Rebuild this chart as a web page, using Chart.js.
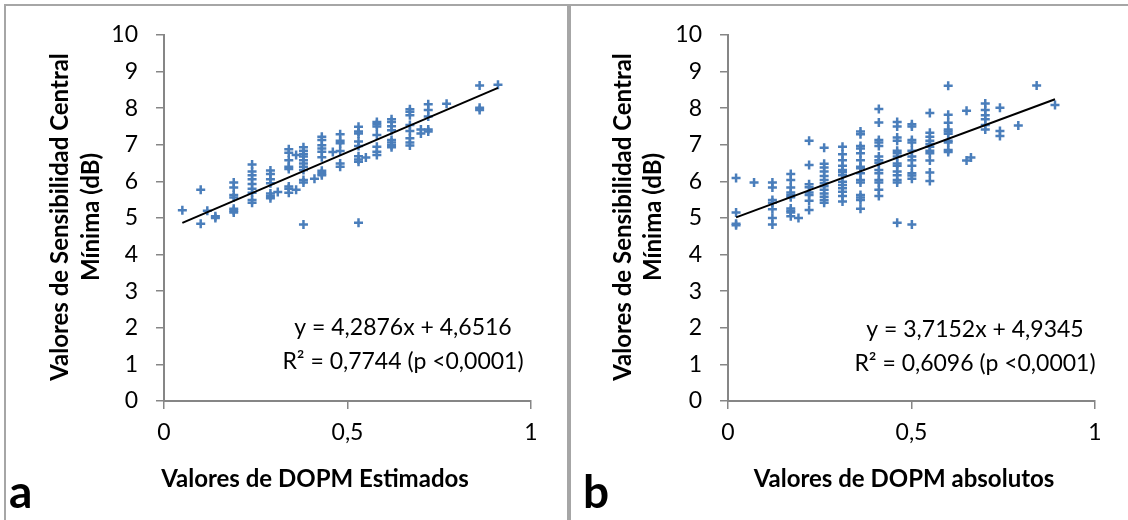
<!DOCTYPE html>
<html>
<head>
<meta charset="utf-8">
<script src="https://cdn.jsdelivr.net/npm/chart.js@4.4.1/dist/chart.umd.min.js"></script>
<style>
    body { margin: 0; background: #fff; width: 1128px; height: 520px; overflow: hidden; position: relative; }
    .frame { position: absolute; top: 4px; height: 540px; border: 2px solid #a6a6a6; border-bottom: none; box-sizing: border-box; }
    canvas { position: absolute; top: 0; }
</style>
</head>
<body>
<div class="frame" style="left:4px;width:565px;"></div>
<div class="frame" style="left:569px;width:600px;"></div>
<canvas id="chartA" width="566" height="520" style="left:0px;"></canvas>
<canvas id="chartB" width="558" height="520" style="left:570px;"></canvas>
<script>
// ---------------- DATA: panel a (DOPM estimados) ----------------
const xA = [
    0.05,
    0.10, 0.10,
    0.118,
    0.14, 0.14,
    0.19, 0.19, 0.19, 0.19, 0.19, 0.19, 0.19,
    0.24, 0.24, 0.24, 0.24, 0.24, 0.24, 0.24, 0.24, 0.24,
    0.29, 0.29, 0.29, 0.29, 0.29, 0.29, 0.29,
    0.31,
    0.34, 0.34, 0.34, 0.34, 0.34, 0.34, 0.34, 0.34,
    0.36, 0.36,
    0.38, 0.38, 0.38, 0.38, 0.38, 0.38, 0.38, 0.38, 0.38, 0.38, 0.38,
    0.41,
    0.43, 0.43, 0.43, 0.43, 0.43, 0.43, 0.43, 0.43, 0.43,
    0.46,
    0.48, 0.48, 0.48, 0.48, 0.48, 0.48,
    0.53, 0.53, 0.53, 0.53, 0.53, 0.53, 0.53, 0.53, 0.53,
    0.55,
    0.58, 0.58, 0.58, 0.58, 0.58, 0.58, 0.58,
    0.62, 0.62, 0.62, 0.62, 0.62, 0.62, 0.62, 0.62,
    0.67, 0.67, 0.67, 0.67, 0.67, 0.67, 0.67, 0.67,
    0.70, 0.70,
    0.72, 0.72, 0.72, 0.72, 0.72,
    0.77,
    0.86, 0.86, 0.86,
    0.91
];
const yA = [
    5.21,
    5.77, 4.84,
    5.20,
    5.05, 5.00,
    5.97, 5.83, 5.63, 5.56, 5.25, 5.20, 5.15,
    6.46, 6.27, 6.17, 6.06, 5.93, 5.80, 5.69, 5.49, 5.42,
    6.30, 6.20, 6.06, 5.95, 5.67, 5.60, 5.54,
    5.71,
    6.88, 6.78, 6.58, 6.40, 6.34, 5.86, 5.80, 5.69,
    6.72, 5.77,
    6.93, 6.84, 6.75, 6.68, 6.58, 6.49, 6.40, 6.31, 6.04, 5.97, 4.82,
    6.07,
    7.22, 7.13, 6.99, 6.90, 6.81, 6.66, 6.29, 6.22, 6.17,
    6.80,
    7.29, 7.11, 7.04, 6.83, 6.49, 6.40,
    7.49, 7.36, 7.31, 7.09, 6.97, 6.69, 6.60, 6.54, 4.87,
    6.65,
    7.62, 7.56, 7.50, 7.27, 6.95, 6.81, 6.72,
    7.70, 7.62, 7.51, 7.40, 7.13, 7.06, 6.99, 6.93,
    7.97, 7.90, 7.81, 7.54, 7.38, 7.18, 7.06, 6.98,
    7.42, 7.31,
    8.11, 7.95, 7.77, 7.42, 7.36,
    8.12,
    8.62, 8.01, 7.95,
    8.64
];
const fitA = { slope: 4.2876, intercept: 4.6516, r2: "0,7744", xFrom: 0.05, xTo: 0.91 };

// ---------------- DATA: panel b (DOPM absolutos) ----------------
const xB = [
    0.022, 0.022, 0.022, 0.022,
    0.071,
    0.121, 0.121, 0.121, 0.121, 0.121, 0.121, 0.121,
    0.171, 0.171, 0.171, 0.171, 0.171, 0.171, 0.171, 0.171, 0.171, 0.171,
    0.192,
    0.221, 0.221, 0.221, 0.221, 0.221, 0.221, 0.221, 0.221,
    0.262, 0.262, 0.262, 0.262, 0.262, 0.262, 0.262, 0.262, 0.262, 0.262, 0.262, 0.262, 0.262,
    0.312, 0.312, 0.312, 0.312, 0.312, 0.312, 0.312, 0.312, 0.312, 0.312, 0.312, 0.312, 0.312,
    0.361, 0.361, 0.361, 0.361, 0.361, 0.361, 0.361, 0.361, 0.361, 0.361, 0.361, 0.361, 0.361, 0.361, 0.361,
    0.411, 0.411, 0.411, 0.411, 0.411, 0.411, 0.411, 0.411, 0.411, 0.411, 0.411, 0.411, 0.411, 0.411,
    0.461, 0.461, 0.461, 0.461, 0.461, 0.461, 0.461, 0.461, 0.461, 0.461, 0.461, 0.461, 0.461, 0.461,
    0.501, 0.501, 0.501, 0.501, 0.501, 0.501, 0.501, 0.501, 0.501, 0.501, 0.501, 0.501,
    0.55, 0.55, 0.55, 0.55, 0.55, 0.55, 0.55, 0.55, 0.55, 0.55, 0.55,
    0.60, 0.60, 0.60, 0.60, 0.60, 0.60, 0.60, 0.60, 0.60, 0.60,
    0.65, 0.65,
    0.662,
    0.701, 0.701, 0.701, 0.701, 0.701, 0.701,
    0.741, 0.741, 0.741,
    0.791,
    0.841,
    0.891
];
const yB = [
    6.09, 5.15, 4.84, 4.80,
    5.97,
    5.97, 5.83, 5.49, 5.42, 5.24, 5.00, 4.82,
    6.20, 6.04, 5.83, 5.70, 5.63, 5.57, 5.26, 5.20, 5.15, 5.05,
    5.00,
    7.11, 6.45, 5.92, 5.84, 5.70, 5.63, 5.47, 5.22,
    6.92, 6.48, 6.38, 6.27, 6.15, 6.04, 5.95, 5.87, 5.77, 5.67, 5.58, 5.49, 5.42,
    6.95, 6.74, 6.58, 6.43, 6.31, 6.25, 6.17, 5.99, 5.90, 5.81, 5.72, 5.60, 5.45,
    7.36, 7.29, 6.97, 6.90, 6.77, 6.58, 6.40, 6.36, 6.22, 6.04, 5.97, 5.63, 5.56, 5.49, 5.25,
    7.98, 7.61, 7.13, 7.06, 6.97, 6.68, 6.58, 6.51, 6.31, 6.22, 6.04, 5.97, 5.77, 5.60,
    7.62, 7.50, 7.20, 7.11, 6.84, 6.77, 6.68, 6.49, 6.43, 6.27, 6.17, 6.04, 5.97, 4.87,
    7.56, 7.50, 7.13, 7.06, 6.84, 6.68, 6.58, 6.43, 6.22, 6.16, 6.07, 4.82,
    7.87, 7.33, 7.22, 7.11, 7.02, 6.95, 6.84, 6.77, 6.57, 6.24, 6.01,
    8.61, 7.82, 7.60, 7.42, 7.36, 7.30, 7.11, 7.06, 6.86, 6.80,
    7.93, 6.57,
    6.65,
    8.13, 7.95, 7.81, 7.70, 7.54, 7.42,
    8.01, 7.38, 7.24,
    7.53,
    8.62,
    8.09
];
const fitB = { slope: 3.7152, intercept: 4.9345, r2: "0,6096", xFrom: 0.022, xTo: 0.891 };

// ---------------- AXES ----------------
const yTicks = [0, 1, 2, 3, 4, 5, 6, 7, 8, 9, 10];
const xTicks = [0, 0.5, 1];
const yTitleLines = ["Valores de Sensibilidad Central", "Mínima (dB)"];

const FONT = "Lato, 'Open Sans', sans-serif";
const MARK = "#4a7ebb";
const AXIS = "#868686";

const comma = (v) => String(v).replace(".", ",");

// draws axis titles, the regression text and the panel letter
const panelText = {
    id: "panelText",
    afterDraw(chart, args, o) {
        const ctx = chart.ctx;
        ctx.save();
        ctx.fillStyle = "#000";
        ctx.textAlign = "center";
        ctx.textBaseline = "middle";

        // y title (rotated, two lines)
        ctx.font = "bold 24px " + FONT;
        o.yTitle.forEach((line, i) => {
            ctx.save();
            ctx.translate(o.yTitleX[i], o.yTitleY);
            ctx.rotate(-Math.PI / 2);
            ctx.fillText(line, 0, 0);
            ctx.restore();
        });

        // x title
        ctx.fillText(o.xTitle, o.xTitleX, o.xTitleY);

        // regression equation
        ctx.font = "23px " + FONT;
        const f = o.fit;
        ctx.fillText("y = " + comma(f.slope) + "x + " + comma(f.intercept), o.eqX, o.eqY);
        ctx.fillText("R² = " + f.r2 + " (p <0,0001)", o.eqX, o.eqY + 34);

        // panel letter
        ctx.font = "bold 46px " + FONT;
        ctx.textAlign = "left";
        ctx.textBaseline = "alphabetic";
        ctx.fillText(o.letter, o.letterX, o.letterY);
        ctx.restore();
    }
};

function makeChart(id, xs, ys, fit, opts) {
    const points = xs.map((x, i) => ({ x: x, y: ys[i] }));
    const trend = [
        { x: fit.xFrom, y: fit.slope * fit.xFrom + fit.intercept },
        { x: fit.xTo, y: fit.slope * fit.xTo + fit.intercept }
    ];
    return new Chart(document.getElementById(id), {
        type: "scatter",
        data: {
            datasets: [
                {
                    type: "line",
                    data: trend,
                    borderColor: "#000",
                    borderWidth: 2,
                    pointRadius: 0,
                    order: 0,
                },
                {
                    data: points,
                    pointStyle: "cross",
                    pointRadius: 4.5,
                    borderColor: MARK,
                    backgroundColor: MARK,
                    pointBorderWidth: 2.5,
                    order: 1,
                }
            ]
        },
        options: {
            responsive: false,
            animation: false,
            events: [],
            layout: { padding: { left: 0, top: 35, right: opts.padRight, bottom: 0 } },
            scales: {
                x: {
                    type: "linear",
                    min: 0,
                    max: 1,
                    afterBuildTicks: (s) => { s.ticks = xTicks.map(v => ({ value: v })); },
                    afterFit: (s) => { s.height = 119; },
                    grid: { drawOnChartArea: false, tickLength: 8, color: AXIS, lineWidth: 1.5 },
                    border: { color: AXIS, width: 2 },
                    ticks: {
                        color: "#000",
                        font: { family: FONT, size: 23 },
                        padding: 10,
                        maxRotation: 0,
                        callback: (v) => comma(v),
                    },
                },
                y: {
                    type: "linear",
                    min: 0,
                    max: 10,
                    afterBuildTicks: (s) => { s.ticks = yTicks.map(v => ({ value: v })); },
                    afterFit: (s) => { s.width = opts.axisLeft; },
                    grid: { drawOnChartArea: false, tickLength: 8, color: AXIS, lineWidth: 1.5 },
                    border: { color: AXIS, width: 2 },
                    ticks: {
                        color: "#000",
                        font: { family: FONT, size: 23 },
                        padding: 18,
                    },
                }
            },
            plugins: {
                legend: { display: false },
                tooltip: { enabled: false },
                panelText: Object.assign({ yTitle: yTitleLines, fit: fit }, opts.text),
            }
        },
        plugins: [panelText]
    });
}

makeChart("chartA", xA, yA, fitA, {
    axisLeft: 164,
    padRight: 35,
    text: {
        yTitleX: [60, 91], yTitleY: 217,
        xTitle: "Valores de DOPM Estimados", xTitleX: 315, xTitleY: 479,
        eqX: 403, eqY: 328,
        letter: "a", letterX: 9, letterY: 508,
    }
});

makeChart("chartB", xB, yB, fitB, {
    axisLeft: 158,
    padRight: 33,
    text: {
        yTitleX: [53, 83], yTitleY: 217,
        xTitle: "Valores de DOPM absolutos", xTitleX: 334, xTitleY: 479,
        eqX: 405, eqY: 330,
        letter: "b", letterX: 13, letterY: 508,
    }
});
</script>
</body>
</html>
